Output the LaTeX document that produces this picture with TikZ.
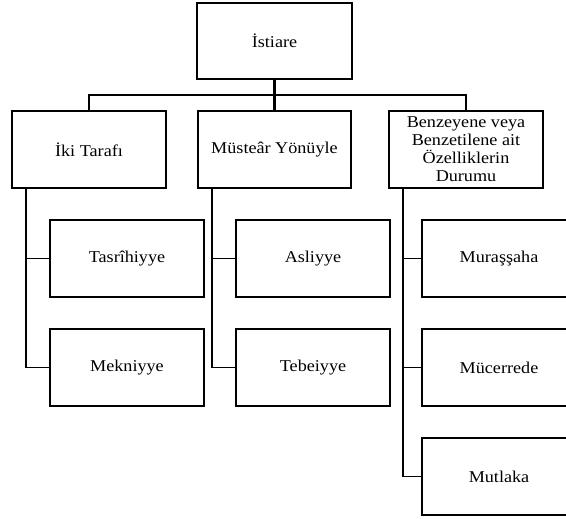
\documentclass[tikz,border=0pt]{standalone}
\usepackage{fontspec}
\setmainfont[FakeStretch=1.1]{Liberation Serif}
\usetikzlibrary{calc}
\begin{document}
\begin{tikzpicture}[x=1pt,y=-1pt,
  box/.style={draw=black,line width=2.4pt,fill=white,minimum width=154pt,minimum height=77pt,
    inner sep=2pt,align=center,font=\fontsize{16.5}{18}\selectfont},
  trunk/.style={draw=black,line width=2.8pt},
  spine/.style={draw=black,line width=2.5pt},
  twig/.style={draw=black,line width=1.7pt}]
\useasboundingbox (0,0) rectangle (566,519);
\clip (0,0) rectangle (566,519);

% top level
\node[box,minimum width=155pt,minimum height=76pt] (istiare) at (274.5,41) {İstiare};

% second level
\node[box] (iki) at (89,149.5) {İki Tarafı};
\node[box,minimum width=153pt] (mustear) at (274.5,149.5) {Müsteâr Yönüyle};
\node[box] (benz) at (466,149.5) {Benzeyene veya\\Benzetilene ait\\Özelliklerin\\Durumu};

% third level
\node[box] (tasrih) at (127,258.5) {Tasrîhiyye};
\node[box] (mekn) at (127,367.5) {Mekniyye};
\node[box] (asl) at (313,258.5) {Asliyye};
\node[box] (tebe) at (313,367.5) {Tebeiyye};
\node[box] (mura) at (499,258.5) {Muraşşaha};
\node[box] (muce) at (499,367.5) {Mücerrede};
\node[box] (mutl) at (499,476.5) {Mutlaka};

% trunk from the root to the second level
\coordinate (hub) at (274.5,95);
\draw[trunk] (istiare.south) -- (hub);
\draw[trunk] (mustear.north) -- (hub);
\draw[trunk] (iki.north) |- (hub);
\draw[trunk] (benz.north) |- (hub);

% spines under each second-level box
\coordinate (lsp) at ([xshift=15pt]iki.south west);
\coordinate (msp) at ([xshift=15pt]mustear.south west);
\coordinate (rsp) at ([xshift=15pt]benz.south west);

\draw[spine] (lsp) -- (lsp |- mekn.west);
\draw[twig] ([xshift=-1.25pt]lsp |- mekn.west) -- (mekn.west);
\draw[twig] (lsp |- tasrih.west) -- (tasrih.west);

\draw[spine] (msp) -- (msp |- tebe.west);
\draw[twig] ([xshift=-1.25pt]msp |- tebe.west) -- (tebe.west);
\draw[twig] (msp |- asl.west) -- (asl.west);

\draw[spine] (rsp) -- (rsp |- mutl.west);
\draw[twig] ([xshift=-1.25pt]rsp |- mutl.west) -- (mutl.west);
\draw[twig] (rsp |- mura.west) -- (mura.west);
\draw[twig] (rsp |- muce.west) -- (muce.west);
\end{tikzpicture}
\end{document}
